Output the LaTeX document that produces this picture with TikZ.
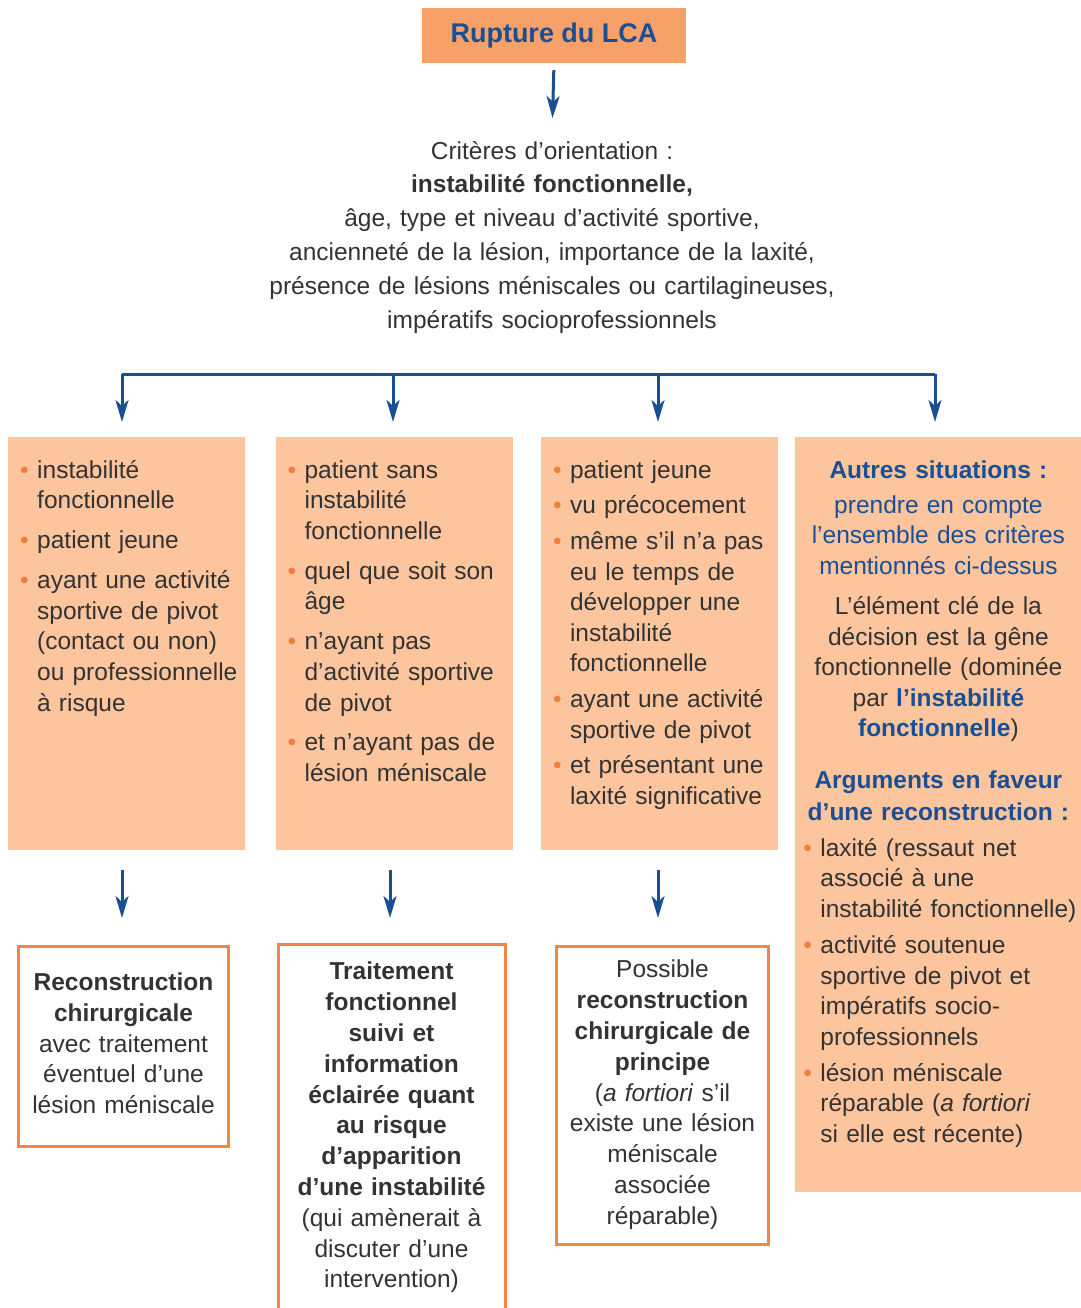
\documentclass[tikz,border=0pt]{standalone}
\usepackage{fontspec}
\setmainfont{Liberation Sans}
\usetikzlibrary{calc, positioning, arrows.meta}
\definecolor{lcablue}{HTML}{1B4F94}
\definecolor{lcaorange}{HTML}{F7A068}
\definecolor{lcapeach}{HTML}{FDC59D}
\definecolor{lcabullet}{HTML}{F07F3A}
\definecolor{lcaborder}{HTML}{F08746}
\definecolor{lcatext}{HTML}{333333}
\tikzset{
    rupture/.style={fill=lcaorange, text=lcablue, font=\bfseries\fontsize{27}{32}\selectfont, minimum width=264, minimum height=55, inner sep=0},
    crit/.style={anchor=north, inner sep=0, text width=640, align=center, font=\fontsize{24.5}{33.8}\selectfont},
    colbox/.style={fill=lcapeach, anchor=north west, inner sep=0},
    coltext/.style={anchor=north west, inner sep=0, text width=290, align=left, font=\fontsize{24.5}{30.6}\selectfont, execute at begin node={\setlength{\parskip}{#1}}},
    sidetext/.style={anchor=north, inner sep=0, text width=276, align=center, font=\fontsize{24.5}{30.6}\selectfont},
    resbox/.style={draw=lcaborder, line width=3, fill=white, anchor=north, inner sep=0, align=center, font=\fontsize{24.5}{30.8}\selectfont},
    resline/.style={draw=lcaborder, line width=3},
    flow/.style={draw=lcablue, line width=3, -{Stealth[length=22pt, width=13pt, inset=6pt]}},
    bus/.style={draw=lcablue, line width=3} }
\newcommand{\itm}[1]{\hangindent=18pt\hangafter=0\noindent\llap{\makebox[18pt][l]{\hspace{1pt}\textcolor{lcabullet}{\textbullet}}}#1\par}
\newcommand{\blu}[1]{\textcolor{lcablue}{#1}}

\begin{document}
\begin{tikzpicture}[x=1pt, y=-1pt, every node/.style={text=lcatext}]
    \useasboundingbox (0,0) rectangle (1080,1308);
    \node[rupture] (lca) at (554,35.5) {Rupture du LCA};
    \node[crit] (crit) at (552,135.3) {\strut Critères d’orientation :\\
        \textbf{instabilité fonctionnelle,}\\
        âge, type et niveau d’activité sportive,\\
        ancienneté de la lésion, importance de la laxité,\\
        présence de lésions méniscales ou cartilagineuses,\\
        impératifs socioprofessionnels};
    % ----
    \node[colbox, minimum width=237, minimum height=413] (c1) at (8,437) {};
    \node[colbox, minimum width=237, minimum height=413, right=30pt of c1] (c2) {};
    \node[colbox, minimum width=237, minimum height=413, right=28pt of c2] (c3) {};
    \node[colbox, minimum width=286, minimum height=755, right=17pt of c3.north east, anchor=north west] (c4) {};

    \node[coltext=9.3pt] (t1) at ($(c1.north west)+(11,19.6)$) {%
        \itm{\strut instabilité\newline fonctionnelle}
        \itm{patient jeune}
        \itm{ayant une activité\newline sportive de pivot\newline (contact ou non)\newline ou professionnelle\newline à risque}};
    \node[coltext=9.3pt] (t2) at ($(c2.north west)+(11,19.6)$) {%
        \itm{\strut patient sans\newline instabilité\newline fonctionnelle}
        \itm{quel que soit son\newline âge}
        \itm{n’ayant pas\newline d’activité sportive\newline de pivot}
        \itm{et n’ayant pas de\newline lésion méniscale}};
    \node[coltext=5pt] (t3) at ($(c3.north west)+(11,19.6)$) {%
        \itm{\strut patient jeune}
        \itm{vu précocement}
        \itm{même s’il n’a pas\newline eu le temps de\newline développer une\newline instabilité\newline fonctionnelle}
        \itm{ayant une activité\newline sportive de pivot}
        \itm{et présentant une\newline laxité significative}};
    \node[sidetext] (t4) at ($(c4.north)+(0,19.6)$) {%
        \strut\textbf{\blu{Autres situations :}}\\[4.4pt]
        \blu{prendre en compte}\\
        \blu{l’ensemble des critères}\\
        \blu{mentionnés ci-dessus}\\[9.4pt]
        L’élément clé de la\\
        décision est la gêne\\
        fonctionnelle (dominée\\
        par \textbf{\blu{l’instabilité}}\\
        \textbf{\blu{fonctionnelle}})\\[21.4pt]
        \textbf{\blu{Arguments en faveur}}\\[1.4pt]
        \textbf{\blu{d’une reconstruction :}}};
    \node[coltext=5.4pt] (t5) at ($(c4.north west)+(7,397.6)$) {%
        \itm{\strut laxité (ressaut net\newline associé à une\newline instabilité fonctionnelle)}
        \itm{activité soutenue\newline sportive de pivot et\newline impératifs socio-\newline professionnels}
        \itm{lésion méniscale\newline réparable (\textit{a fortiori}\newline si elle est récente)}};
    % ----
    \node[resbox, minimum width=210, minimum height=200, text width=200] (resA) at (123.5,944.5) {\strut\textbf{Reconstruction}\\
        \textbf{chirurgicale}\\
        avec traitement\\
        éventuel d’une\\
        lésion méniscale\strut};
    \node[resbox, draw=none, minimum width=224, minimum height=363.5, text width=214] (resB) at (391.5,944.5) {\strut\textbf{Traitement}\\
        \textbf{fonctionnel}\\
        \textbf{suivi et}\\
        \textbf{information}\\
        \textbf{éclairée quant}\\
        \textbf{au risque}\\
        \textbf{d’apparition}\\
        \textbf{d’une instabilité}\\
        (qui amènerait à\\
        discuter d’une\\
        intervention)\strut};
    \node[resbox, minimum width=212, minimum height=298, text width=202] (resC) at (662.5,944.5) {\strut Possible\\
        \textbf{reconstruction}\\
        \textbf{chirurgicale de}\\
        \textbf{principe}\\
        (\textit{a fortiori} s’il\\
        existe une lésion\\
        méniscale\\
        associée\\
        réparable)\strut};
    % ----
    \coordinate (bus1) at (122,374);
    \coordinate (bus2) at (393,374);
    \coordinate (bus3) at (658,374);
    \coordinate (bus4) at (935,374);

    \draw[flow, shorten <=7, shorten >=17.3] (lca.south) -- (crit.north);
    \draw[bus] (bus1) -- (bus4);
    \draw[flow, shorten >=15] (bus1) -- (bus1 |- c1.north);
    \draw[flow, shorten >=15] (bus2) -- (bus2 |- c2.north);
    \draw[flow, shorten >=15] (bus3) -- (bus3 |- c3.north);
    \draw[flow, shorten >=15] (bus4) -- (bus4 |- c4.north);

    \draw[flow, shorten <=20, shorten >=26.5] (bus1 |- c1.south) -- (bus1 |- resA.north);
    \draw[flow, shorten <=20, shorten >=26.5] (390,0 |- c2.south) -- (390,0 |- resB.north);
    \draw[flow, shorten <=20, shorten >=26.5] (bus3 |- c3.south) -- (bus3 |- resC.north);

    \draw[resline] (resB.south west) -- (resB.north west) -- (resB.north east) -- (resB.south east);
\end{tikzpicture}
\end{document}
